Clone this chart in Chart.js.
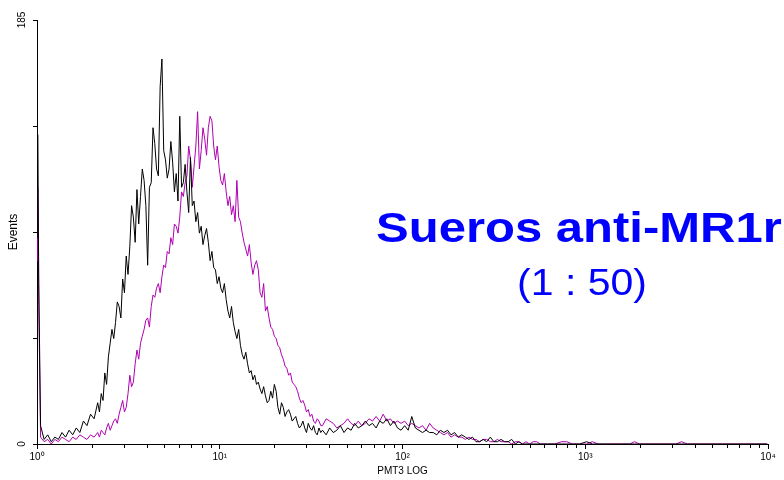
<!DOCTYPE html>
<html>
<head>
<meta charset="utf-8">
<script src="https://cdn.jsdelivr.net/npm/chart.js@4.4.0/dist/chart.umd.min.js"></script>
<style>
  html, body { margin: 0; padding: 0; background: #ffffff; }
  #wrap { width: 784px; height: 480px; position: relative; }
</style>
</head>
<body>
<div id="wrap"><canvas id="chart-pmt3"></canvas></div>
<script>
// histogram channels (1024 ch over 4 decades)
const channels = [
  0, 1, 2.5, 5, 10, 15, 20, 25, 30, 35, 40,
  45, 50, 55, 60, 65, 70, 75, 80,
  85, 87.5, 90, 92.5, 95, 97.5, 100, 102.5, 105, 107.5,
  110, 112.5, 115, 117.5, 120, 122.5, 125, 127.5, 130, 132.5,
  135, 137.5, 140, 142.5, 145, 147.5, 150, 152.5, 155, 157.5,
  160, 162.5, 165, 167.5, 170, 172.5, 175, 177.5, 180, 182.5,
  185, 187.5, 190, 192.5, 195, 197.5, 200, 202.5, 205, 207.5,
  210, 212.5, 215, 217.5, 220, 222.5, 225, 227.5, 230, 232.5,
  235, 237.5, 240, 242.5, 245, 247.5, 250, 252.5, 255, 257.5,
  260, 262.5, 265, 267.5, 270, 272.5, 275, 277.5, 280, 282.5,
  285, 287.5, 290, 292.5, 295, 297.5, 300, 302.5, 305, 307.5,
  310, 312.5, 315, 317.5, 320, 322.5, 325, 327.5, 330, 332.5,
  335, 337.5, 340, 342.5, 345, 347.5, 350, 352.5, 355, 357.5,
  360, 362.5, 365, 367.5, 370, 372.5, 375, 377.5, 380, 382.5,
  385, 387.5, 390, 392.5, 395, 397.5, 400,
  405, 410, 415, 420, 425, 430, 435, 440,
  445, 450, 455, 460, 465, 470, 475, 480, 485, 490,
  495, 500, 505, 510, 515, 520, 525, 530, 535, 540,
  545, 550, 555, 560, 565, 570, 575, 580, 585, 590,
  595, 600, 605, 610, 615, 620, 625, 630, 635, 640,
  645, 650, 655, 660, 665, 670, 675, 680, 685, 690,
  695, 700,
  705, 715, 725, 735, 742, 750, 760, 770, 778, 786,
  800, 830, 837, 844, 895, 903, 911, 960, 1023,
];

const controlCounts = [
  90, 135, 70, 8, 2, 4, 1, 3, 2, 5, 3,
  6, 4, 7, 5, 10, 8, 13, 11,
  18, 14, 22, 19, 31, 26, 38, 44, 50, 46,
  53, 62, 60, 55, 72, 66, 82, 74, 86, 104,
  99, 88, 111, 96, 108, 120, 115, 104, 78, 112,
  114, 138, 131, 120, 117, 156, 168, 128, 124, 116,
  120, 132, 123, 110, 118, 106, 143, 112, 114, 122,
  110, 101, 125, 104, 106, 97, 101, 92, 95, 87,
  91, 94, 88, 80, 84, 77, 76, 70, 73, 68,
  66, 70, 63, 58, 55, 60, 53, 49, 46, 50,
  43, 39, 37, 40, 35, 31, 32, 28, 30, 26,
  27, 24, 22, 25, 21, 18, 19, 23, 20, 26,
  23, 16, 13, 18, 16, 12, 14, 15, 13, 10,
  11, 12, 9, 7, 8, 10, 7, 5, 9, 7,
  6, 8, 5, 4, 7, 5, 6,
  4, 7, 5, 6, 8, 5, 7, 6,
  9, 7, 8, 10, 8, 9, 7, 10, 9, 11,
  8, 10, 7, 6, 8, 6, 12, 7, 6, 5,
  6, 5, 5, 4, 6, 5, 6, 4, 5, 3,
  4, 3, 2, 3, 1, 1, 2, 1, 3, 1,
  1, 2, 1, 1, 2, 0, 1, 0, 0, 0,
  0, 0,
  0, 0, 0, 0, 0, 0, 0, 1, 0, 0,
  0, 0, 0, 0, 0, 0, 0, 0, 0,
];

const serumCounts = [
  80, 112, 60, 3, 1, 2, 0, 2, 1, 3, 2,
  1, 3, 2, 4, 3, 2, 4, 3,
  5, 3, 6, 5, 4, 7, 9, 6, 8, 10,
  11, 9, 13, 16, 19, 14, 16, 22, 30, 25,
  27, 35, 41, 37, 44, 47, 50, 54, 55, 51,
  60, 65, 64, 68, 70, 66, 73, 78, 77, 84,
  83, 90, 87, 96, 95, 92, 99, 110, 108, 114,
  117, 130, 124, 112, 121, 130, 145, 120, 128, 138,
  133, 126, 138, 143, 141, 130, 124, 130, 121, 115,
  113, 118, 110, 104, 108, 100, 104, 97, 115, 99,
  97, 92, 88, 85, 82, 87, 79, 74, 78, 80,
  76, 66, 64, 70, 58, 60, 55, 51, 50, 47,
  46, 43, 42, 39, 37, 34, 33, 30, 31, 27,
  26, 25, 23, 20, 18, 19, 17, 14, 15, 12,
  13, 10, 9, 11, 10, 8, 8,
  11, 10, 9, 7, 8, 9, 11, 9,
  8, 10, 8, 9, 11, 10, 12, 10, 13, 10,
  11, 9, 10, 9, 10, 8, 9, 8, 7, 8,
  6, 9, 7, 6, 5, 4, 5, 3, 4, 3,
  3, 2, 3, 2, 2, 1, 2, 2, 1, 1,
  2, 1, 1, 1, 0, 1, 1, 0, 1, 0,
  1, 1,
  0, 0, 0, 1, 1, 0, 0, 0, 1, 0,
  0, 0, 1, 0, 0, 1, 0, 0, 0,
];

const xTickLabels = ["10⁰", "10¹", "10²", "10³", "10⁴"];
const yTickValues = [0, 46.25, 92.5, 138.75, 185];
const yTickLabels = ["0", "", "", "", "185"];
const titleLines = ["Sueros anti-MR1r", "(1 : 50)"];

// 1,2..9,10,20..90,... up to 10^4
const xTickValues = [];
for (let d = 0; d < 4; d++) {
  for (let m = 1; m < 10; m++) xTickValues.push(m * Math.pow(10, d));
}
xTickValues.push(10000);

const decadeOf = (value) => {
  const k = Math.round(Math.log10(value));
  return Math.abs(Math.pow(10, k) - value) < 1e-6 ? k : -1;
};

const toPoints = (counts) =>
  channels.map((c, i) => ({ x: Math.pow(10, c / 256), y: counts[i] }));

const fontFamily = '"Liberation Sans", Arial, sans-serif';
Chart.defaults.font.family = fontFamily;
Chart.defaults.color = "#000000";

const serumLabel = {
  id: "serumLabel",
  afterDraw(chart) {
    const ctx = chart.ctx;
    ctx.save();
    ctx.fillStyle = "#0000ff";
    ctx.textBaseline = "alphabetic";

    ctx.save();
    ctx.translate(376, 242);
    ctx.scale(1.14, 1);
    ctx.textAlign = "left";
    ctx.font = "bold 43px " + fontFamily;
    ctx.fillText(titleLines[0], 0, 0);
    ctx.restore();

    ctx.save();
    ctx.translate(582, 295);
    ctx.scale(1.14, 1);
    ctx.textAlign = "center";
    ctx.font = "36px " + fontFamily;
    ctx.fillText(titleLines[1], 0, 0);
    ctx.restore();

    ctx.restore();
  },
};

const chartPmt3 = document.querySelector("#chart-pmt3").getContext("2d");

new Chart(chartPmt3, {
  type: "line",
  data: {
    datasets: [
      {
        data: toPoints(controlCounts),
        borderColor: "#000000",
      },
      {
        data: toPoints(serumCounts),
        borderColor: "#b000b0",
      },
    ],
  },
  options: {
    responsive: true,
    maintainAspectRatio: false,
    animation: false,
    layout: { padding: { top: 20, right: 16, left: 0, bottom: 0 } },
    elements: {
      point: { radius: 0 },
      line: { borderWidth: 1, tension: 0, fill: false },
    },
    plugins: {
      legend: { display: false },
      tooltip: { enabled: false },
    },
    scales: {
      x: {
        type: "logarithmic",
        min: 1,
        max: 10000,
        afterBuildTicks: (scale) => {
          scale.ticks = xTickValues.map((v) => ({ value: v }));
        },
        afterFit: (scale) => {
          scale.height = 36;
        },
        border: { display: true, color: "#000000", width: 1 },
        grid: {
          drawOnChartArea: false,
          drawTicks: true,
          tickLength: 5,
          color: "#000000",
          // minor ticks drawn shorter
          tickBorderDash: (ctx) =>
            ctx.tick && decadeOf(ctx.tick.value) < 0 ? [3, 20] : [],
        },
        ticks: {
          autoSkip: false,
          maxRotation: 0,
          padding: 2,
          font: { size: 10 },
          callback: (value) => {
            const k = decadeOf(value);
            return k >= 0 ? xTickLabels[k] : "";
          },
        },
        title: {
          display: true,
          text: "PMT3 LOG",
          font: { size: 10 },
          padding: { top: 0, bottom: 3 },
        },
      },
      y: {
        min: 0,
        max: 185,
        afterBuildTicks: (scale) => {
          scale.ticks = yTickValues.map((v) => ({ value: v }));
        },
        afterFit: (scale) => {
          scale.width = 37;
        },
        border: { display: true, color: "#000000", width: 1 },
        grid: {
          drawOnChartArea: false,
          drawTicks: true,
          tickLength: 4,
          color: "#000000",
        },
        ticks: {
          minRotation: 90,
          maxRotation: 90,
          crossAlign: "center",
          padding: 2,
          font: { size: 10 },
          callback: (value, index) => yTickLabels[index],
        },
        title: {
          display: true,
          text: "Events",
          font: { size: 12 },
          padding: { top: 6, bottom: 0 },
        },
      },
    },
  },
  plugins: [serumLabel],
});
</script>
</body>
</html>
